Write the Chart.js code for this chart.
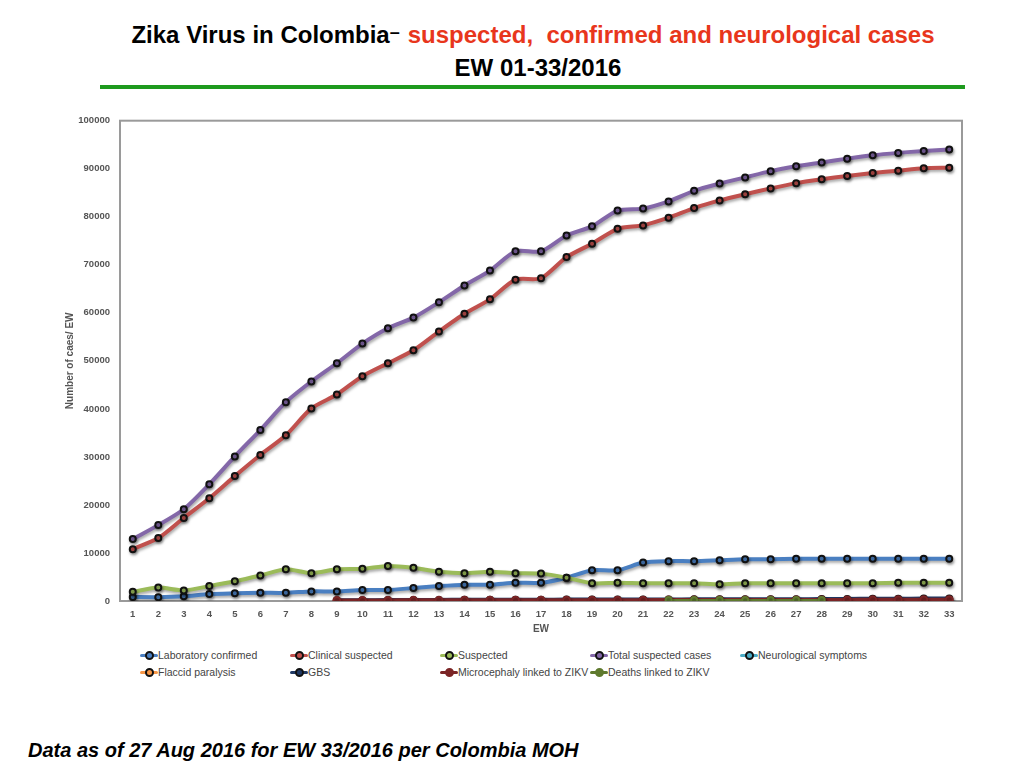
<!DOCTYPE html>
<html>
<head>
<meta charset="utf-8">
<script src="https://cdn.jsdelivr.net/npm/chart.js@4/dist/chart.umd.min.js"></script>
<style>
  body { margin:0; width:1024px; height:768px; background:#fff; font-family:"Liberation Sans", Arial, sans-serif; position:relative; overflow:hidden; }
  #title1 { position:absolute; top:21px; left:0; width:1066px; text-align:center; font-weight:bold; font-size:24px; color:#000; }
  #title1 .red { color:#e8361c; }
  #title1 .dash { position:relative; top:-5px; font-size:18px; margin-right:8px; }
  #title2 { position:absolute; top:54px; left:0; width:1076px; text-align:center; font-weight:bold; font-size:24px; color:#000; }
  #rule { position:absolute; top:85px; left:100px; width:865px; height:4px; background:#1e9a1e; }
  #wrap { position:absolute; left:62px; top:105px; width:913px; height:530px; }
  #legend { position:absolute; left:140px; top:647px; width:800px; font-size:10.5px; color:#444; }
  #legend .item { position:absolute; height:16px; line-height:16px; white-space:nowrap; }
  #legend .mk { display:inline-block; position:relative; width:18px; height:16px; vertical-align:top; }
  #legend .ln { position:absolute; left:0; top:7px; width:18px; height:3px; border-radius:2px; }
  #legend .dot { position:absolute; left:5px; top:4px; width:5px; height:5px; border-radius:50%; border:2px solid #111; }
  #foot { position:absolute; left:28px; top:739px; font-weight:bold; font-style:italic; font-size:20px; color:#000; }
</style>
</head>
<body>
<div id="title1">Zika Virus in Colombia<span class="dash">–</span><span class="red">suspected,&nbsp; confirmed and neurological cases</span></div>
<div id="title2">EW 01-33/2016</div>
<div id="rule"></div>
<div id="wrap"><canvas id="myChart"></canvas></div>
<div id="legend"></div>
<div id="foot">Data as of 27 Aug 2016 for EW 33/2016 per Colombia MOH</div>
<script>
var weeks = ["1","2","3","4","5","6","7","8","9","10","11","12","13","14","15","16","17",
             "18","19","20","21","22","23","24","25","26","27","28","29","30","31","32","33"];
var yTicks = [0,10000,20000,30000,40000,50000,60000,70000,80000,90000,100000];

var lab_confirmed = [830,800,1000,1450,1600,1700,1700,2000,2000,2300,2300,2700,3100,3400,3400,3800,3800,
                     4850,6400,6400,8000,8300,8300,8500,8700,8700,8800,8800,8800,8800,8800,8800,8800];
var clinical_suspected = [10800,13100,17300,21400,26000,30400,34500,40100,43000,46800,49500,52200,56100,59800,62800,66900,67200,
                          71600,74400,77500,78200,79800,81800,83400,84700,85900,87000,87800,88500,89100,89600,90100,90200];
var suspected = [1900,2800,2200,3100,4100,5300,6600,5800,6600,6700,7300,6900,6100,5800,6100,5800,5700,
                 4850,3700,3800,3700,3700,3700,3500,3700,3700,3700,3700,3700,3700,3800,3800,3800];
var total_suspected = [12900,15800,19100,24300,30100,35600,41400,45700,49500,53600,56800,59000,62200,65700,68800,72800,72800,
                       76100,78000,81300,81700,83200,85400,86900,88200,89500,90500,91300,92100,92800,93300,93700,94000];
var neuro_symptoms = [];
var flaccid_paralysis = [];
var gbs = [null,null,null,null,null,null,null,null,150,170,190,210,230,250,260,270,280,
           290,300,310,320,330,340,350,360,370,380,400,430,460,480,500,520];
var microcephaly = [null,null,null,null,null,null,null,null,120,130,130,140,140,150,150,160,160,
                    170,170,180,180,190,190,200,200,210,210,220,230,240,250,260,270];
var deaths = [null,null,null,null,null,null,null,null,null,null,null,null,null,null,null,null,null,
              null,null,null,null,200,210,210,220,220,230,230,null,null,null,null,null];

function series(label, data, color, ord, opts) {
	var ds = {
		label: label,
		data: data,
		borderColor: color,
		backgroundColor: color,
		borderWidth: 4,
		tension: 0.25,
		pointRadius: 3,
		pointBorderWidth: 2,
		pointBorderColor: "#111",
		pointBackgroundColor: color,
		order: ord
	};
	for (var k in opts) ds[k] = opts[k];
	return ds;
}

var datasets = [
	series("Laboratory confirmed", lab_confirmed, "#4a7fc1", 6),
	series("Clinical suspected", clinical_suspected, "#c0504d", 7),
	series("Suspected", suspected, "#9bbb59", 5),
	series("Total suspected cases", total_suspected, "#8367a8", 8),
	series("Neurological symptoms", neuro_symptoms, "#4bacc6", 9),
	series("Flaccid paralysis", flaccid_paralysis, "#f79646", 10),
	series("GBS", gbs, "#1f3864", 3),
	series("Microcephaly linked to ZIKV", microcephaly, "#7b2526", 2, {pointBorderColor:"#7b2526", pointRadius:3.5}),
	series("Deaths linked to ZIKV", deaths, "#5f7a2e", 1, {pointBorderColor:"#5f7a2e", borderWidth:2})
];

// soft drop shadow under every line, as in the original
var shadowPlugin = {
	id: "shadow",
	beforeDatasetDraw: function(chart) {
		var c = chart.ctx;
		c.save();
		c.shadowColor = "rgba(0,0,0,0.35)";
		c.shadowBlur = 3;
		c.shadowOffsetX = 1;
		c.shadowOffsetY = 2;
	},
	afterDatasetDraw: function(chart) {
		chart.ctx.restore();
	}
};

// grey frame round the plot area
var framePlugin = {
	id: "frame",
	beforeDatasetsDraw: function(chart) {
		var a = chart.chartArea, c = chart.ctx;
		c.save();
		c.strokeStyle = "#9a9a9a";
		c.lineWidth = 2;
		c.strokeRect(a.left, a.top, a.right - a.left, a.bottom - a.top);
		c.restore();
	}
};

var tickFont = { family: "Liberation Sans", size: 9.5, weight: "bold" };
var titleFont = { family: "Liberation Sans", size: 10, weight: "bold" };

var ctx = document.getElementById("myChart");
var myChart = new Chart(ctx, {
	type: "line",
	data: { labels: weeks, datasets: datasets },
	options: {
		responsive: true,
		maintainAspectRatio: false,
		animation: false,
		spanGaps: false,
		layout: { padding: { left: 0, right: 13, top: 12, bottom: 0 } },
		plugins: { legend: { display: false }, tooltip: { enabled: false } },
		scales: {
			x: {
				offset: true,
				grid: { display: false, drawTicks: false, offset: true },
				border: { display: false },
				ticks: { font: tickFont, color: "#555", padding: 8, maxRotation: 0, autoSkip: false },
				title: { display: true, text: "EW", font: titleFont, color: "#555", padding: { top: 0, bottom: 0 } },
				afterFit: function(axis) { axis.height = 34; }
			},
			y: {
				min: 0,
				max: 100000,
				afterBuildTicks: function(axis) { axis.ticks = yTicks.map(function(v) { return { value: v }; }); },
				grid: { display: false, drawTicks: false },
				border: { display: false },
				ticks: { font: tickFont, color: "#555", padding: 10, callback: function(v) { return String(v); } },
				title: { display: true, text: "Number of caes/ EW", font: titleFont, color: "#555", padding: { top: 2, bottom: 6 } },
				afterFit: function(axis) { axis.width = 58; }
			}
		}
	},
	plugins: [shadowPlugin, framePlugin]
});

// legend in fixed columns, built from the chart's datasets
var leg = document.getElementById("legend");
myChart.data.datasets.forEach(function(ds, i) {
	var item = document.createElement("div");
	item.className = "item";
	item.style.left = (i % 5) * 150 + "px";
	item.style.top = Math.floor(i / 5) * 17 + "px";
	var mk = document.createElement("span");
	mk.className = "mk";
	var ln = document.createElement("span");
	ln.className = "ln";
	ln.style.background = ds.borderColor;
	var dot = document.createElement("span");
	dot.className = "dot";
	dot.style.background = ds.borderColor;
	dot.style.borderColor = ds.pointBorderColor;
	mk.appendChild(ln);
	mk.appendChild(dot);
	item.appendChild(mk);
	item.appendChild(document.createTextNode(ds.label));
	leg.appendChild(item);
});
</script>
</body>
</html>
